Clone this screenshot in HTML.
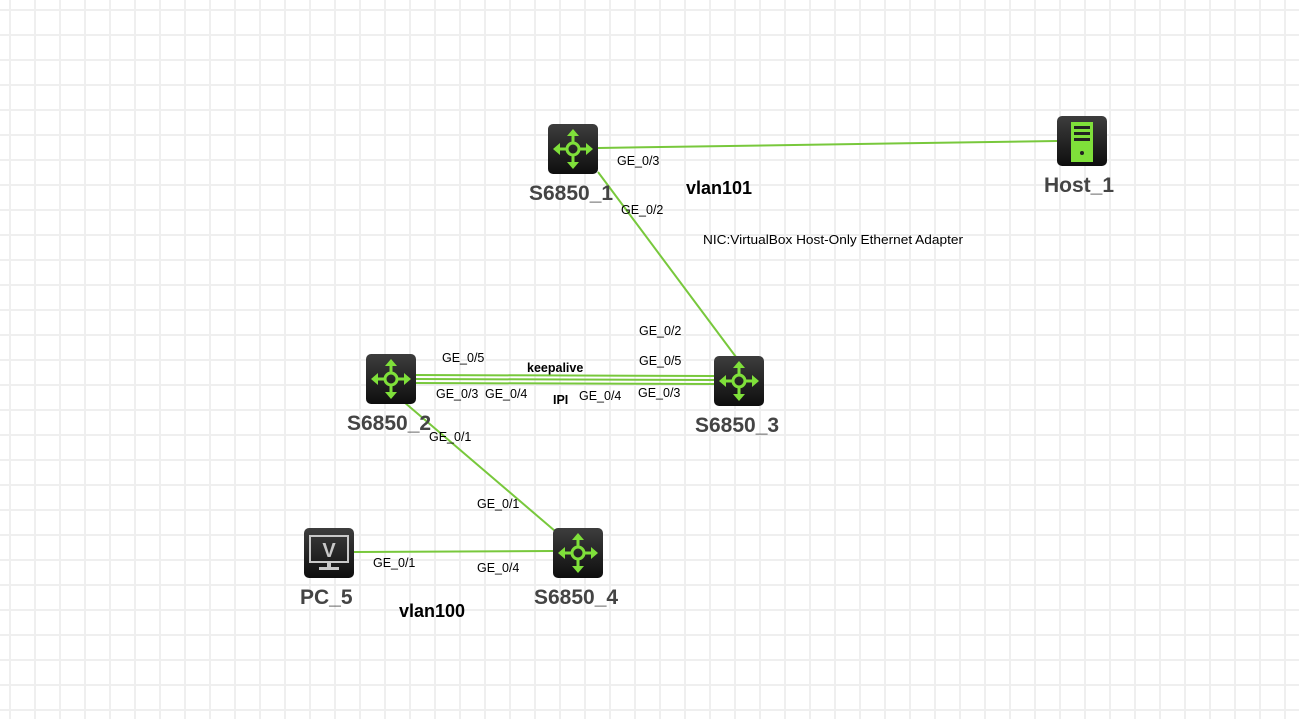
<!DOCTYPE html>
<html><head><meta charset="utf-8"><style>
html,body{margin:0;padding:0;background:#fff;}
svg{display:block;}
text{font-family:"Liberation Sans",Arial,sans-serif;}
</style></head><body>
<svg width="1299" height="719" viewBox="0 0 1299 719" xmlns="http://www.w3.org/2000/svg">
<defs>
<pattern id="g" x="9" y="9" width="25" height="25" patternUnits="userSpaceOnUse">
<path d="M1 0V25M0 1H25" stroke="#efefef" stroke-width="2" fill="none"/>
</pattern>
<linearGradient id="ib" x1="0" y1="0" x2="0" y2="1">
<stop offset="0" stop-color="#3d3d3d"/><stop offset="1" stop-color="#0e0e0e"/>
</linearGradient>
<g id="sw">
<rect x="0" y="0" width="50" height="50" rx="5" fill="url(#ib)"/>
<g stroke="#7fe03a" stroke-width="3" fill="none" stroke-linecap="round">
<circle cx="25" cy="25" r="6"/>
<path d="M25 19V9M25 31V41M19 25H9M31 25H41"/>
</g>
<g fill="#7fe03a">
<path d="M25 5L19 12H31Z"/><path d="M25 45L19 38H31Z"/>
<path d="M5 25L12 19V31Z"/><path d="M45 25L38 19V31Z"/>
</g>
</g>
</defs>
<rect width="1299" height="719" fill="url(#g)"/>
<g stroke="#78c83c" stroke-width="2" fill="none">
<line x1="598" y1="148" x2="1057" y2="141"/>
<line x1="598" y1="172" x2="736" y2="357"/>
<line x1="415" y1="375" x2="714" y2="376"/>
<line x1="415" y1="379" x2="714" y2="380"/>
<line x1="415" y1="383" x2="714" y2="384"/>
<line x1="404" y1="402" x2="555" y2="531"/>
<line x1="354" y1="552" x2="553" y2="551"/>
</g>
<use href="#sw" x="548" y="124"/>
<use href="#sw" x="366" y="354"/>
<use href="#sw" x="714" y="356"/>
<use href="#sw" x="553" y="528"/>
<rect x="1057" y="116" width="50" height="50" rx="5" fill="url(#ib)"/>
<rect x="1071" y="122" width="22" height="40" fill="#7fe03a"/>
<rect x="1074" y="126" width="16" height="3" fill="#222"/>
<rect x="1074" y="132" width="16" height="3" fill="#222"/>
<rect x="1074" y="138" width="16" height="3" fill="#222"/>
<circle cx="1082" cy="153" r="2" fill="#222"/>
<rect x="304" y="528" width="50" height="50" rx="5" fill="url(#ib)"/>
<rect x="310" y="536" width="38" height="26" fill="none" stroke="#c8c8c8" stroke-width="2"/>
<text x="329" y="557" text-anchor="middle" font-size="20" font-weight="bold" fill="#c8c8c8">V</text>
<rect x="327" y="563" width="4" height="4" fill="#c8c8c8"/>
<rect x="319" y="567" width="20" height="3" fill="#c8c8c8"/>
<g font-size="21" font-weight="bold" fill="#444">
<text x="529" y="200">S6850_1</text>
<text x="347" y="430">S6850_2</text>
<text x="695" y="432">S6850_3</text>
<text x="534" y="604">S6850_4</text>
<text x="300" y="604">PC_5</text>
<text x="1044" y="192">Host_1</text>
</g>
<g font-size="18" font-weight="bold" fill="#000">
<text x="686" y="194">vlan101</text>
<text x="399" y="617">vlan100</text>
</g>
<g font-size="12.5" fill="#000">
<text x="617" y="165">GE_0/3</text>
<text x="621" y="214">GE_0/2</text>
<text x="639" y="335">GE_0/2</text>
<text x="442" y="362">GE_0/5</text>
<text x="639" y="365">GE_0/5</text>
<text x="436" y="398">GE_0/3</text>
<text x="485" y="398">GE_0/4</text>
<text x="579" y="400">GE_0/4</text>
<text x="638" y="397">GE_0/3</text>
<text x="429" y="441">GE_0/1</text>
<text x="477" y="508">GE_0/1</text>
<text x="373" y="567">GE_0/1</text>
<text x="477" y="572">GE_0/4</text>
</g>
<text x="703" y="244" font-size="12.5" fill="#000" textLength="260" lengthAdjust="spacingAndGlyphs">NIC:VirtualBox Host-Only Ethernet Adapter</text>
<g font-size="12.5" font-weight="bold" fill="#000">
<text x="527" y="372">keepalive</text>
<text x="553" y="404">IPI</text>
</g>
</svg>
</body></html>
